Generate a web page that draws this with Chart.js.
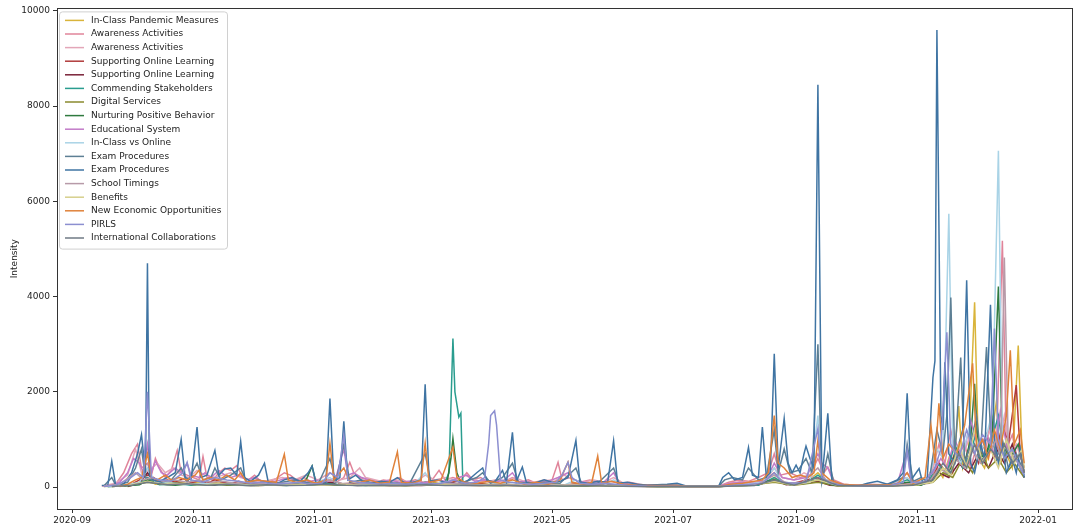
<!DOCTYPE html>
<html>
<head>
<meta charset="utf-8">
<script src="https://cdn.jsdelivr.net/npm/chart.js@4/dist/chart.umd.min.js"></script>
<style>
  html, body { margin: 0; padding: 0; background: #fff; }
  #wrap { width: 1084px; height: 529px; }
</style>
</head>
<body>
<div id="wrap"><canvas id="lineChart" width="1084" height="529"></canvas></div>
<script>
// x values are days counted from 2020-09-01
const seriesLabels = ['In-Class Pandemic Measures', 'Awareness Activities', 'Awareness Activities',
    'Supporting Online Learning', 'Supporting Online Learning', 'Commending Stakeholders',
    'Digital Services', 'Nurturing Positive Behavior', 'Educational System', 'In-Class vs Online',
    'Exam Procedures', 'Exam Procedures', 'School Timings', 'Benefits',
    'New Economic Opportunities', 'PIRLS', 'International Collaborations'];

const xTickLabels = ['2020-09', '2020-11', '2021-01', '2021-03', '2021-05', '2021-07', '2021-09', '2021-11', '2022-01'];
const yTickValues = [0, 2000, 4000, 6000, 8000, 10000];

const inClassPandemic = [[16,10],[22,20],[28,40],[33,80],[38,150],[42,60],[47,90],[53,120],[58,70],[63,100],[68,60],[74,110],[80,50],[86,90],[92,60],[98,40],[104,80],[110,60],[116,40],[122,90],[128,50],[134,70],[140,40],[146,60],[152,90],[158,50],[164,80],[170,40],[176,60],[182,100],[188,50],[194,140],[200,60],[206,80],[212,50],[218,70],[224,40],[230,60],[236,50],[242,80],[248,40],[254,60],[260,30],[266,80],[272,40],[278,60],[284,30],[290,20],[300,30],[310,10],[326,10],[332,40],[338,60],[344,50],[350,90],[354,200],[358,80],[364,60],[370,100],[376,300],[380,120],[386,40],[392,20],[400,30],[408,40],[414,30],[420,60],[426,40],[432,120],[436,400],[439,200],[442,600],[444,300],[447,1700],[449,400],[452,800],[455,3880],[457,600],[460,400],[463,900],[466,1800],[468,500],[471,700],[474,400],[477,2970],[479,600],[480,300]];
const awareness1 = [[15,20],[18,30],[22,60],[26,300],[30,700],[33,900],[35,400],[38,500],[40,250],[42,600],[44,400],[47,200],[50,350],[53,770],[55,300],[58,250],[61,200],[64,150],[66,640],[68,200],[71,150],[74,300],[77,400],[80,350],[83,450],[86,200],[89,150],[92,250],[95,120],[99,100],[103,180],[107,300],[110,250],[113,150],[117,200],[121,100],[125,80],[129,150],[133,100],[137,200],[140,520],[142,300],[145,200],[149,150],[153,100],[157,150],[161,120],[165,200],[169,100],[173,150],[177,100],[181,120],[185,350],[188,150],[192,200],[196,150],[199,300],[202,150],[206,200],[210,100],[214,150],[218,120],[222,200],[226,100],[230,150],[234,80],[238,120],[242,150],[245,520],[247,150],[251,200],[256,100],[261,150],[266,100],[271,120],[276,80],[281,100],[286,60],[290,40],[300,50],[310,20],[326,20],[331,100],[336,150],[341,120],[346,200],[351,300],[354,700],[357,250],[362,300],[367,200],[372,250],[376,600],[379,300],[381,420],[384,150],[389,60],[395,40],[402,60],[409,50],[416,80],[421,300],[424,100],[430,120],[434,400],[437,900],[440,500],[443,1200],[446,600],[450,900],[453,400],[457,1000],[460,600],[463,1400],[466,800],[469,5170],[471,800],[474,1100],[477,500],[480,300]];
const awareness2 = [[16,30],[22,80],[28,250],[32,800],[35,300],[39,350],[43,500],[47,300],[51,400],[55,250],[59,200],[63,350],[67,250],[72,200],[76,250],[80,300],[85,200],[90,150],[95,100],[100,150],[106,200],[112,150],[118,250],[124,150],[130,300],[135,150],[140,200],[145,400],[148,200],[153,150],[158,100],[163,150],[168,120],[173,100],[178,250],[183,150],[188,200],[193,150],[198,250],[203,150],[208,100],[213,150],[218,100],[223,200],[228,120],[233,100],[238,150],[243,120],[248,250],[253,150],[258,100],[263,150],[268,100],[273,200],[278,80],[284,60],[290,40],[300,40],[310,20],[326,20],[332,80],[338,120],[344,100],[350,150],[354,400],[358,200],[364,150],[369,300],[374,200],[378,150],[384,80],[390,40],[398,30],[406,50],[414,60],[420,200],[425,80],[431,150],[436,600],[440,300],[444,800],[448,500],[452,1000],[456,600],[460,900],[464,1300],[467,800],[470,1500],[473,700],[476,900],[480,400]];
const supportOnline1 = [[25,20],[30,60],[34,150],[38,250],[41,200],[44,120],[48,150],[52,100],[56,180],[60,90],[64,130],[68,80],[72,150],[76,100],[80,70],[84,120],[88,60],[93,90],[98,50],[104,80],[110,60],[116,90],[122,50],[128,100],[134,60],[140,80],[146,50],[152,70],[158,40],[164,80],[170,50],[176,70],[182,40],[188,60],[194,120],[200,50],[206,70],[212,40],[218,60],[224,40],[230,50],[236,30],[242,60],[248,40],[254,70],[260,30],[266,50],[272,30],[278,40],[286,20],[300,20],[310,10],[326,10],[334,40],[342,60],[348,80],[354,300],[358,100],[364,80],[370,150],[376,200],[380,100],[388,30],[396,20],[406,30],[416,40],[422,100],[428,50],[434,200],[437,500],[441,300],[445,700],[449,400],[453,900],[457,500],[461,1100],[465,600],[469,1300],[472,900],[476,2140],[478,700],[480,400]];
const supportOnline2 = [[28,10],[34,80],[38,300],[42,100],[48,60],[54,90],[60,50],[66,80],[72,40],[78,70],[84,50],[90,30],[98,40],[106,60],[114,40],[122,60],[130,100],[136,50],[144,30],[152,50],[160,30],[168,40],[176,30],[184,50],[192,80],[198,40],[206,30],[214,50],[222,30],[230,40],[238,20],[246,40],[254,30],[262,20],[270,30],[280,20],[290,10],[310,10],[326,10],[336,30],[346,50],[354,150],[360,50],[370,80],[376,120],[382,40],[392,20],[404,20],[416,30],[424,60],[432,80],[437,300],[442,200],[447,500],[452,300],[457,700],[462,400],[466,800],[470,500],[474,900],[478,400],[480,200]];
const commending = [[18,10],[26,30],[34,60],[38,200],[44,50],[52,80],[60,40],[68,70],[76,50],[84,60],[92,40],[100,50],[108,30],[116,60],[122,40],[128,80],[134,50],[140,40],[148,30],[156,60],[164,40],[172,50],[178,100],[184,60],[188,100],[190,300],[192,3120],[193,2000],[195,1470],[196,1550],[197,100],[200,60],[206,40],[214,60],[222,40],[230,30],[238,50],[246,30],[254,40],[262,30],[270,40],[278,20],[288,20],[300,20],[310,10],[326,10],[336,30],[346,40],[354,200],[360,60],[370,80],[376,250],[381,100],[390,20],[402,20],[414,30],[421,150],[426,50],[432,100],[436,500],[441,300],[445,900],[449,400],[453,700],[456,1200],[459,500],[463,900],[467,1500],[470,600],[474,800],[478,400],[480,250]];
const digitalServices = [[20,10],[30,40],[38,100],[46,60],[54,80],[62,50],[70,70],[78,40],[86,60],[94,30],[104,50],[114,40],[124,60],[132,40],[140,50],[150,30],[160,40],[170,30],[180,50],[190,60],[200,40],[210,30],[220,40],[230,20],[240,40],[250,30],[260,20],[270,30],[282,20],[295,10],[310,10],[326,10],[340,30],[354,100],[364,40],[376,100],[386,20],[400,20],[415,30],[425,50],[434,100],[439,300],[444,200],[449,600],[454,300],[458,800],[462,400],[467,600],[471,300],[475,500],[480,200]];
const nurturing = [[18,10],[26,20],[34,50],[38,150],[44,60],[52,40],[60,70],[68,40],[76,60],[84,40],[92,30],[100,50],[108,40],[114,80],[118,150],[121,440],[123,80],[128,60],[136,40],[144,60],[152,40],[160,50],[168,30],[176,50],[184,40],[189,80],[191,600],[192,1020],[194,300],[196,100],[200,50],[208,40],[216,30],[224,50],[232,30],[240,40],[248,20],[256,30],[264,20],[272,30],[282,20],[295,10],[310,10],[326,10],[340,40],[354,150],[362,50],[376,150],[384,40],[396,20],[410,20],[421,100],[428,40],[434,150],[438,400],[442,300],[446,800],[450,500],[453,1000],[455,2170],[457,600],[461,700],[464,1200],[467,4210],[469,900],[473,600],[477,900],[480,300]];
const educationalSystem = [[16,20],[20,40],[24,100],[28,300],[31,600],[34,500],[36,300],[38,900],[40,300],[42,550],[45,300],[48,250],[52,400],[55,300],[58,500],[60,250],[64,200],[67,300],[70,200],[74,350],[77,250],[80,200],[84,250],[88,150],[92,200],[96,120],[100,100],[105,150],[109,200],[113,150],[118,100],[123,150],[128,100],[133,200],[137,800],[139,250],[142,300],[146,200],[150,150],[155,100],[160,150],[165,100],[170,120],[175,80],[180,100],[185,150],[190,100],[195,200],[199,250],[203,120],[208,150],[213,100],[218,150],[222,300],[225,120],[230,100],[235,80],[240,120],[245,200],[250,300],[253,150],[258,100],[263,80],[268,100],[273,300],[276,80],[282,60],[288,40],[300,40],[310,20],[326,20],[332,80],[338,100],[344,80],[350,150],[354,500],[358,200],[364,150],[370,200],[376,700],[378,500],[381,400],[384,100],[390,40],[398,30],[408,40],[416,60],[421,780],[423,150],[428,100],[434,300],[438,600],[441,400],[445,1000],[449,600],[453,1400],[457,800],[461,1100],[465,700],[468,1600],[471,900],[474,500],[478,700],[480,300]];
const inClassVsOnline = [[18,10],[26,30],[34,100],[38,400],[42,100],[50,80],[58,60],[66,80],[74,50],[82,70],[90,40],[100,60],[110,40],[120,60],[130,200],[134,60],[142,50],[152,40],[162,50],[172,40],[178,300],[182,50],[192,60],[202,40],[212,60],[222,100],[228,40],[238,50],[248,40],[254,150],[258,40],[268,30],[273,150],[278,30],[290,20],[310,10],[326,10],[338,50],[348,100],[354,400],[358,100],[366,80],[372,100],[376,1500],[378,200],[386,40],[398,20],[410,30],[421,200],[425,60],[432,200],[436,800],[439,600],[442,5740],[444,800],[448,500],[452,1200],[456,600],[460,900],[464,1600],[467,7060],[469,900],[473,700],[477,500],[480,250]];
const examProcedures1 = [[16,20],[20,200],[22,40],[28,100],[32,400],[35,800],[37,200],[40,150],[45,100],[50,150],[55,400],[58,100],[63,500],[66,150],[70,200],[72,400],[75,150],[80,250],[85,400],[88,100],[94,150],[100,80],[106,100],[112,150],[118,100],[124,60],[130,600],[133,100],[137,900],[140,100],[146,150],[152,80],[158,100],[164,80],[170,60],[178,700],[181,80],[188,60],[196,80],[204,200],[207,300],[211,80],[217,200],[222,500],[225,100],[230,80],[238,100],[246,80],[254,400],[257,60],[265,80],[273,400],[276,50],[284,40],[292,30],[305,40],[310,20],[326,20],[329,150],[333,200],[338,150],[341,400],[346,150],[350,200],[354,1200],[356,300],[359,800],[362,300],[366,350],[370,600],[373,300],[376,3000],[378,100],[381,700],[384,80],[392,30],[402,40],[412,60],[419,200],[421,900],[424,120],[428,200],[432,100],[436,1200],[439,700],[441,1500],[443,3980],[445,600],[448,2720],[450,500],[453,900],[456,1500],[458,700],[461,2940],[463,1200],[466,600],[469,1000],[472,400],[476,700],[480,300]];
const examProcedures2 = [[15,30],[18,40],[20,545],[22,30],[26,60],[30,300],[33,700],[35,1100],[37,300],[38,4700],[39,250],[41,150],[44,120],[48,200],[52,300],[55,1000],[57,200],[60,150],[63,1260],[65,200],[68,250],[72,770],[74,250],[77,380],[80,400],[83,250],[85,960],[87,200],[90,120],[94,250],[97,500],[99,80],[103,60],[107,150],[111,200],[115,120],[119,300],[121,440],[123,80],[126,50],[128,100],[130,1860],[132,120],[135,200],[137,1380],[139,150],[143,250],[147,100],[151,80],[156,120],[160,100],[164,200],[168,80],[172,100],[176,150],[178,2160],[180,120],[184,150],[188,100],[191,80],[194,60],[199,120],[204,300],[207,400],[209,150],[213,100],[217,350],[219,100],[222,1150],[224,120],[227,420],[229,100],[233,80],[238,150],[242,100],[246,120],[250,200],[254,980],[256,100],[260,80],[265,120],[270,100],[273,970],[275,80],[280,100],[285,60],[290,40],[300,60],[305,80],[310,20],[326,20],[328,200],[331,300],[334,150],[338,200],[341,830],[343,250],[346,200],[348,1260],[350,220],[352,300],[354,2800],[356,400],[359,1440],[361,500],[363,300],[365,460],[367,300],[369,700],[370,860],[372,600],[374,400],[376,8450],[378,120],[381,1550],[383,150],[386,60],[390,30],[396,20],[401,80],[406,120],[411,60],[416,150],[419,300],[421,1970],[423,150],[427,390],[429,60],[431,100],[434,2300],[435,2650],[436,9600],[438,1500],[439,1200],[440,2620],[442,700],[445,500],[447,900],[449,1200],[451,4340],[453,500],[455,300],[458,900],[460,600],[463,3830],[465,1000],[467,500],[469,900],[471,300],[474,600],[476,300],[478,800],[480,200]];
const schoolTimings = [[16,20],[24,60],[32,300],[36,150],[40,200],[46,120],[52,150],[58,100],[64,150],[70,100],[76,120],[82,80],[90,100],[98,60],[106,80],[114,60],[122,80],[130,150],[136,80],[142,60],[150,80],[158,50],[166,60],[174,40],[182,60],[190,80],[198,60],[206,40],[214,60],[222,50],[230,40],[238,60],[246,40],[254,60],[262,30],[270,40],[280,20],[292,20],[310,10],[326,10],[336,40],[346,60],[354,250],[360,80],[368,100],[376,400],[380,150],[390,30],[404,30],[416,40],[424,80],[432,100],[437,400],[441,300],[445,600],[450,400],[454,800],[458,500],[462,700],[466,1000],[468,600],[470,4820],[472,800],[475,600],[479,400],[480,300]];
const benefits = [[20,10],[30,50],[38,120],[46,60],[56,80],[66,50],[76,70],[86,40],[96,50],[106,30],[116,60],[126,40],[136,60],[146,30],[156,50],[166,30],[176,40],[186,60],[196,40],[206,30],[216,40],[226,30],[236,40],[246,30],[256,40],[266,20],[278,30],[290,10],[310,10],[326,10],[342,30],[354,120],[364,40],[376,150],[386,30],[400,20],[414,30],[424,40],[434,100],[439,400],[443,250],[447,900],[451,400],[455,1200],[459,500],[463,800],[467,400],[471,1000],[475,500],[479,800],[480,400]];
const newEconomic = [[24,10],[28,60],[32,150],[35,200],[38,700],[40,200],[43,150],[47,250],[50,150],[54,200],[58,150],[62,250],[64,350],[66,150],[70,200],[74,150],[78,250],[82,150],[85,300],[88,100],[93,150],[98,120],[103,100],[107,690],[109,150],[113,100],[118,150],[123,80],[128,150],[130,920],[132,150],[137,400],[140,120],[145,100],[150,150],[155,80],[160,100],[164,740],[166,100],[172,80],[176,150],[178,920],[180,100],[186,150],[192,840],[194,200],[198,100],[204,80],[210,120],[216,80],[222,150],[228,60],[234,100],[240,60],[246,150],[250,520],[252,100],[258,60],[262,100],[265,650],[267,80],[272,120],[278,60],[285,40],[292,30],[305,30],[310,10],[326,10],[332,60],[338,80],[344,120],[348,150],[351,300],[354,1500],[356,500],[359,400],[363,200],[367,250],[371,200],[374,300],[376,980],[378,300],[382,150],[388,60],[396,40],[406,40],[416,60],[421,300],[424,80],[430,200],[433,1300],[435,500],[437,1760],[439,600],[442,900],[446,700],[450,1300],[454,2600],[456,800],[459,1000],[462,600],[465,1200],[468,800],[471,1500],[473,2870],[475,900],[478,1200],[480,500]];
const pirls = [[16,10],[22,40],[28,150],[33,300],[36,200],[38,2000],[40,200],[44,150],[50,120],[56,300],[58,520],[60,150],[66,100],[72,200],[78,150],[84,120],[90,80],[96,100],[102,60],[108,80],[114,100],[120,60],[126,80],[130,300],[134,200],[137,1100],[139,150],[144,100],[150,80],[156,60],[162,80],[168,60],[174,80],[180,60],[186,80],[192,150],[198,80],[204,100],[208,200],[210,900],[211,1500],[213,1600],[214,1300],[216,150],[220,100],[226,80],[232,60],[238,80],[244,100],[247,250],[250,520],[252,200],[256,80],[262,60],[268,80],[274,60],[280,40],[290,20],[310,10],[326,10],[334,40],[342,60],[348,80],[354,300],[358,100],[364,80],[370,100],[376,1230],[378,200],[382,80],[390,30],[400,20],[412,30],[419,100],[421,780],[423,100],[430,100],[435,400],[438,800],[441,3250],[443,900],[447,600],[451,1200],[455,700],[459,1100],[463,900],[465,3330],[467,1000],[470,600],[474,800],[478,400],[480,250]];
const intlCollab = [[20,10],[30,40],[38,100],[48,50],[58,70],[68,40],[78,60],[88,30],[98,50],[108,30],[118,40],[128,60],[138,40],[148,30],[158,40],[168,30],[178,50],[188,30],[198,40],[208,30],[218,40],[228,20],[238,30],[248,20],[258,30],[270,20],[285,10],[310,10],[326,10],[344,30],[354,150],[364,40],[376,200],[386,30],[400,20],[414,20],[424,40],[434,150],[439,500],[443,300],[447,700],[451,400],[455,900],[459,500],[463,800],[467,600],[470,900],[474,500],[478,700],[480,300]];

const seriesData = [inClassPandemic, awareness1, awareness2, supportOnline1, supportOnline2, commending,
    digitalServices, nurturing, educationalSystem, inClassVsOnline, examProcedures1, examProcedures2,
    schoolTimings, benefits, newEconomic, pirls, intlCollab];

const seriesColors = ['#d9b43a', '#e0849a', '#e3a6b8', '#b03a3a', '#7a2238', '#2a9d8f',
    '#8a8a2e', '#2f7a3f', '#c27bc8', '#a9d3e6', '#5d7f94', '#3f74a3',
    '#b79aa8', '#d6cf8c', '#e0823a', '#8c8fd0', '#6f7a84'];

// day offset of each month tick, counted from 2020-09-01
const dayZero = Date.UTC(2020, 8, 1);
const xTickDays = xTickLabels.map(s => {
    const [y, m] = s.split('-').map(Number);
    return (Date.UTC(y, m - 1, 1) - dayZero) / 86400000;
});

const fontFamily = '"DejaVu Sans", sans-serif';

// Moldura à volta da área do gráfico
const frame = {
    id: 'frame',
    afterDatasetsDraw(chart) {
        const {ctx, chartArea: a} = chart;
        ctx.save();
        ctx.strokeStyle = '#333';
        ctx.lineWidth = 1;
        ctx.strokeRect(Math.round(a.left) + 0.5, Math.round(a.top) + 0.5,
            Math.round(a.right - a.left), Math.round(a.bottom - a.top));
        ctx.restore();
    }
};

// Legenda em coluna, no canto superior esquerdo
const boxLegend = {
    id: 'boxLegend',
    afterDraw(chart) {
        const {ctx, chartArea: a} = chart;
        const sets = chart.data.datasets;
        const rowH = 13.6;
        const x0 = a.left + 2, y0 = a.top + 3;
        const w = 168, h = sets.length * rowH + 6;
        ctx.save();
        ctx.fillStyle = 'rgba(255,255,255,0.85)';
        ctx.strokeStyle = '#d0d0d0';
        ctx.lineWidth = 1;
        ctx.beginPath();
        ctx.roundRect(x0 + 0.5, y0 + 0.5, w, h, 3);
        ctx.fill();
        ctx.stroke();
        ctx.font = '9px ' + fontFamily;
        ctx.textBaseline = 'middle';
        sets.forEach((ds, i) => {
            const y = y0 + 9 + i * rowH;
            ctx.strokeStyle = ds.borderColor;
            ctx.lineWidth = 1.5;
            ctx.beginPath();
            ctx.moveTo(x0 + 6, y);
            ctx.lineTo(x0 + 25, y);
            ctx.stroke();
            ctx.fillStyle = '#222';
            ctx.fillText(ds.label, x0 + 32, y);
        });
        ctx.restore();
    }
};

const ctx = document.getElementById('lineChart').getContext('2d');
const myLineChart = new Chart(ctx, {
    type: 'line',
    data: {
        datasets: seriesLabels.map((label, i) => ({
            label: label,
            data: seriesData[i].map(p => ({x: p[0], y: p[1]})),
            borderColor: seriesColors[i],
            backgroundColor: seriesColors[i],
            borderWidth: 1.5,
            pointRadius: 0,
            tension: 0,
            fill: false,
            order: seriesLabels.length - i
        }))
    },
    options: {
        responsive: false,
        animation: false,
        layout: { padding: { left: 0, right: 12, top: 7, bottom: 0 } },
        plugins: {
            legend: { display: false },
            tooltip: { enabled: false }
        },
        scales: {
            x: {
                type: 'linear',
                min: -7.6,
                max: 504.1,
                afterBuildTicks: scale => { scale.ticks = xTickDays.map(v => ({value: v})); },
                afterFit: scale => { scale.height = 20; },
                border: { display: false },
                grid: { display: true, drawOnChartArea: false, drawTicks: true, tickLength: 4, color: '#333' },
                ticks: {
                    autoSkip: false,
                    maxRotation: 0,
                    padding: 2,
                    color: '#222',
                    font: { family: fontFamily, size: 9 },
                    callback: (value, index) => xTickLabels[index]
                }
            },
            y: {
                min: -461,
                max: 10052,
                afterBuildTicks: scale => { scale.ticks = yTickValues.map(v => ({value: v})); },
                afterFit: scale => { scale.width = 57; },
                border: { display: false },
                grid: { display: true, drawOnChartArea: false, drawTicks: true, tickLength: 4, color: '#333' },
                title: {
                    display: true,
                    text: 'Intensity',
                    color: '#222',
                    font: { family: fontFamily, size: 9 },
                    padding: { top: 9, bottom: 0 }
                },
                ticks: {
                    padding: 3,
                    color: '#222',
                    font: { family: fontFamily, size: 9 },
                    callback: value => String(value)
                }
            }
        }
    },
    plugins: [frame, boxLegend]
});
</script>
</body>
</html>
